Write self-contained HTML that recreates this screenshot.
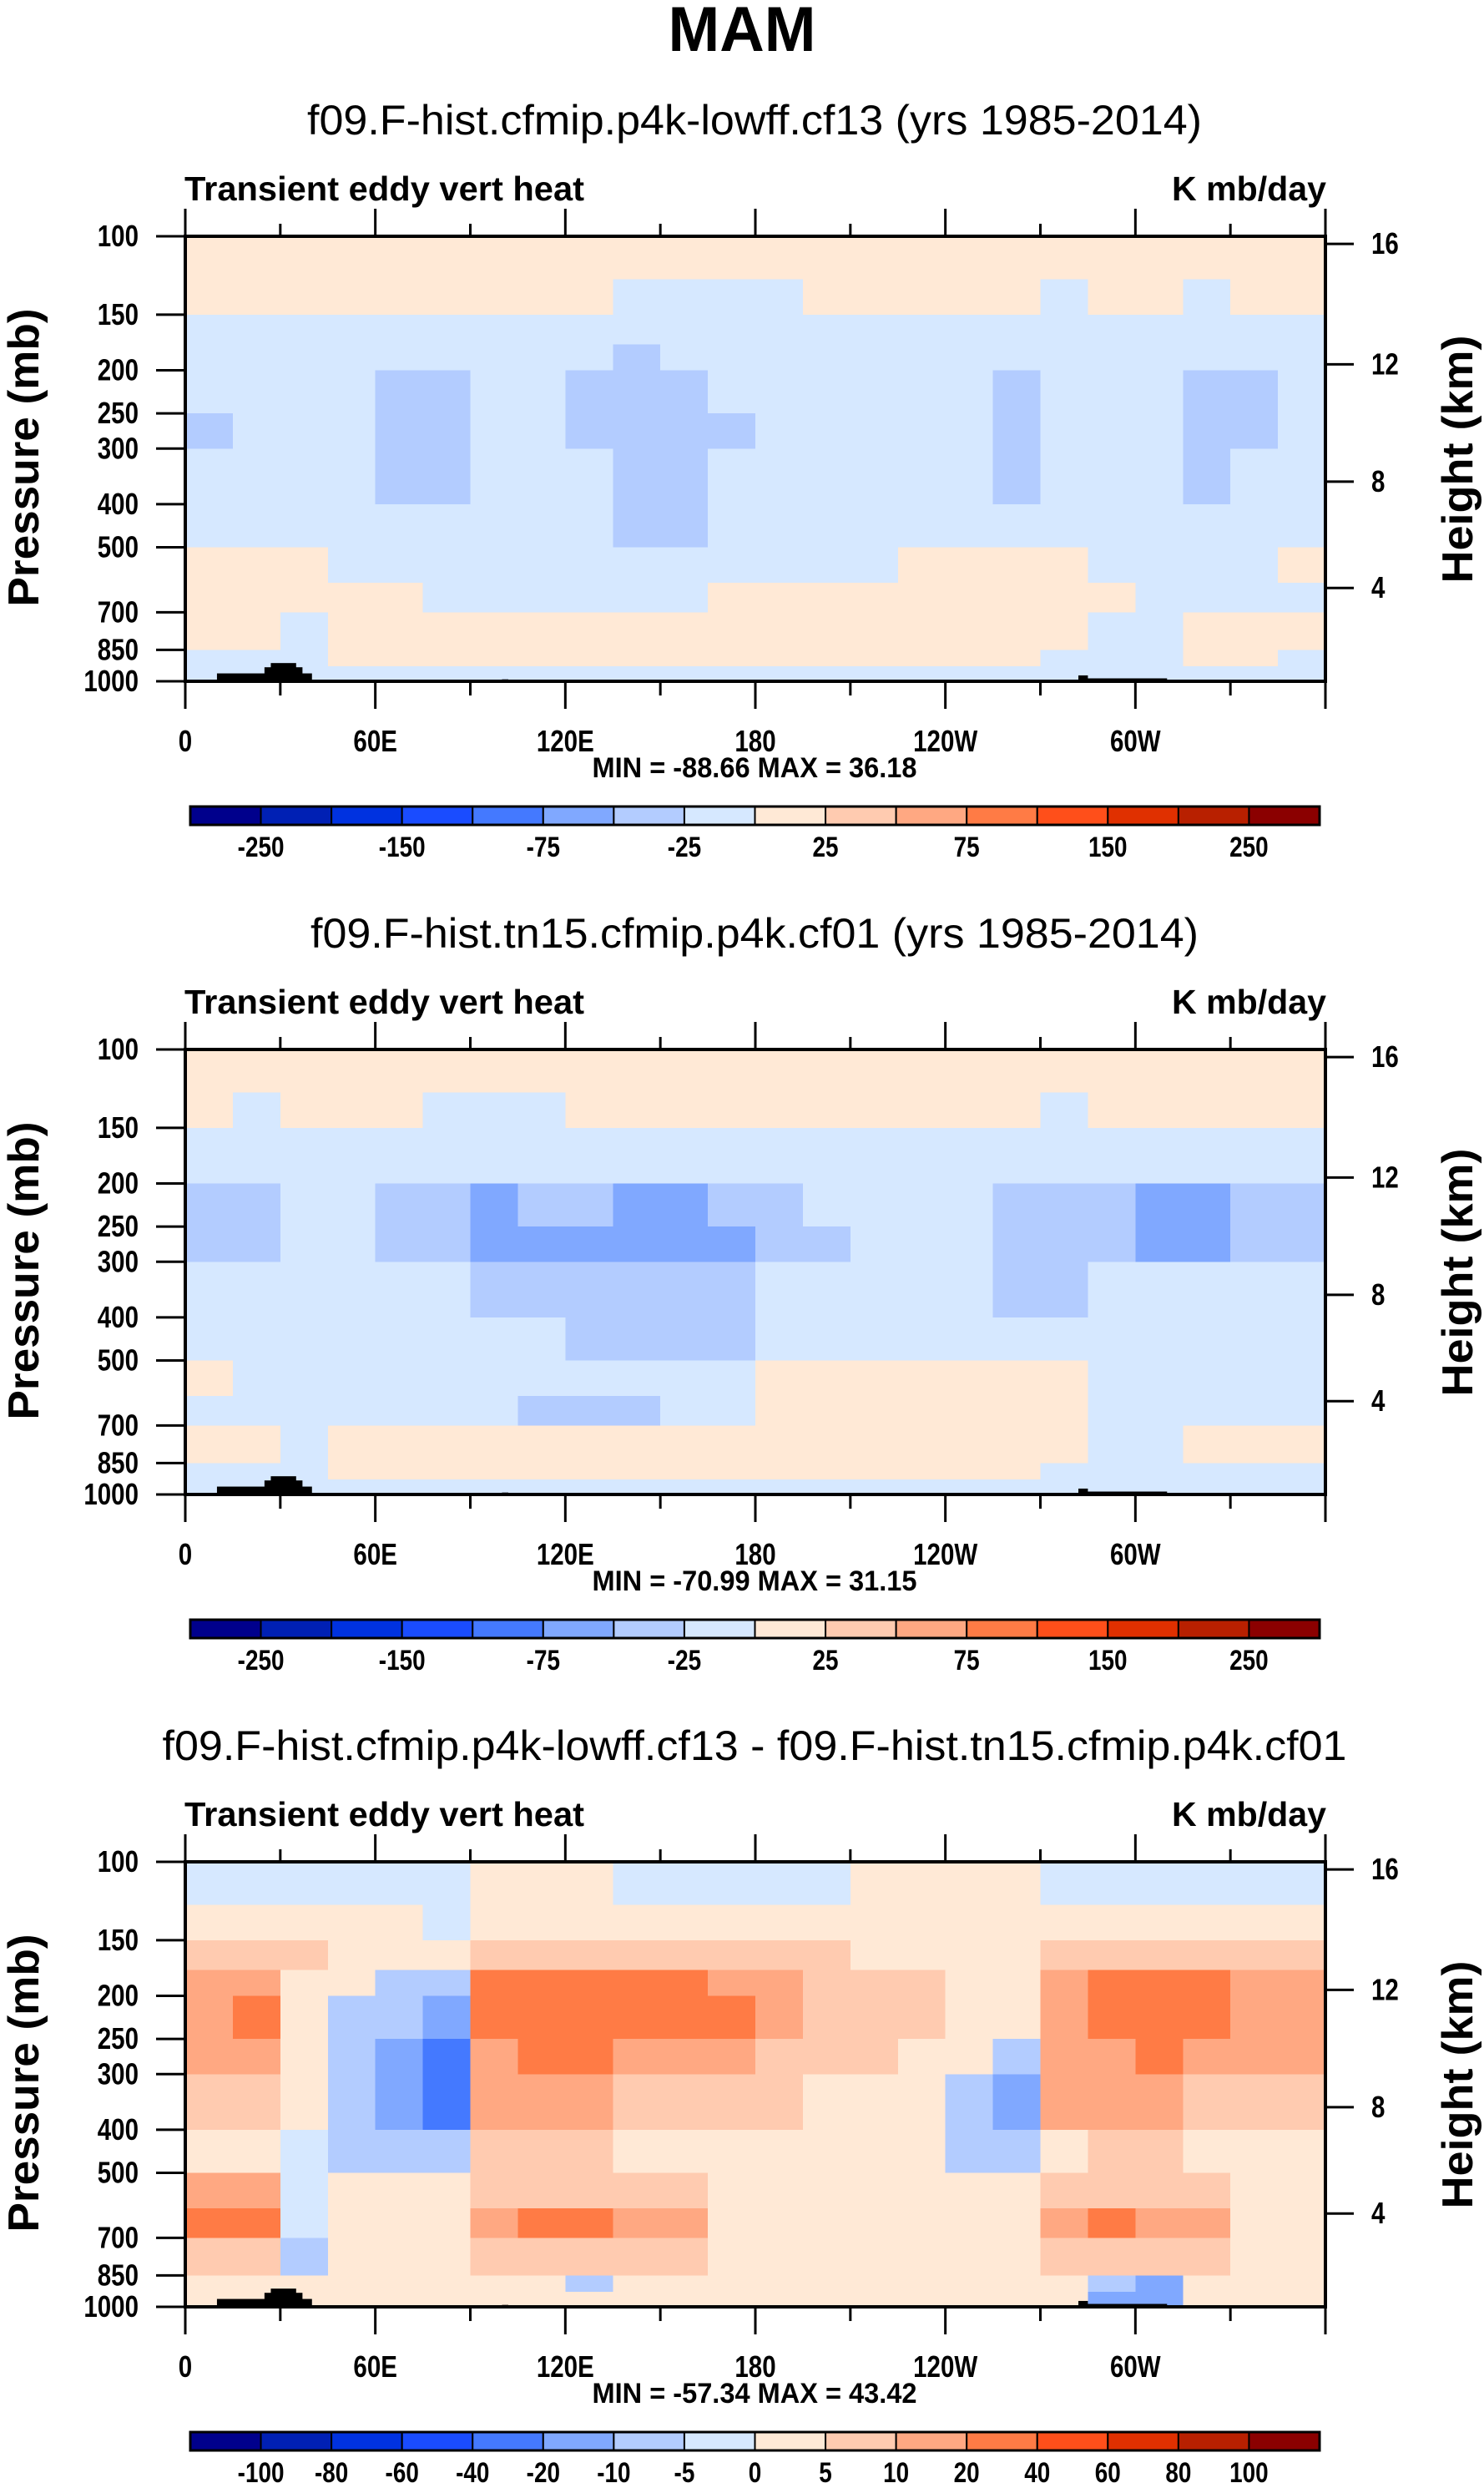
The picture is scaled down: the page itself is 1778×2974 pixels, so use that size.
<!DOCTYPE html>
<html><head><meta charset="utf-8"><style>
html,body{margin:0;padding:0;background:#fff;}
svg{display:block;font-family:"Liberation Sans",sans-serif;}
</style></head><body>
<svg id="fig" width="1778" height="2974" viewBox="0 0 1778 2974" xmlns="http://www.w3.org/2000/svg">
<text x="889" y="61" text-anchor="middle" font-size="76" font-weight="bold" textLength="177" lengthAdjust="spacingAndGlyphs">MAM</text>
</svg>
<script>
// ---------- data ----------
const pressureTicks = [100,150,200,250,300,400,500,700,850,1000];
const heightTicks = [16,12,8,4];
const heightTickP = [104,194,356,617]; // pressure at which height ticks sit
const lonTickLabels = ["0","60E","120E","180","120W","60W"];
const pEdges = [100,125,150,175,200,250,300,400,500,600,700,850,925,1000];
const lonStep = 15;
const colors = ["#00008c","#0020b4","#0032e0","#1a4cff","#4479ff","#80a8ff","#b3ccff","#d6e8ff","#ffe9d6","#ffcbb0","#ffa882","#ff7b45","#ff4f1a","#e03000","#b82000","#8b0000"];
const levelsA = [-250,-200,-150,-100,-75,-50,-25,0,25,50,75,100,150,200,250];
const labelsA = ["-250","","-150","","-75","","-25","","25","","75","","150","","250"];
const levelsB = [-100,-80,-60,-40,-20,-10,-5,0,5,10,20,40,60,80,100];
const labelsB = ["-100","-80","-60","-40","-20","-10","-5","0","5","10","20","40","60","80","100"];
const subtitles = ["f09.F-hist.cfmip.p4k-lowff.cf13 (yrs 1985-2014)","f09.F-hist.tn15.cfmip.p4k.cf01 (yrs 1985-2014)","f09.F-hist.cfmip.p4k-lowff.cf13 - f09.F-hist.tn15.cfmip.p4k.cf01"];
const subtitleLen = [1072,1064,1419];
const minmax = ["MIN = -88.66  MAX =  36.18","MIN = -70.99  MAX =  31.15","MIN = -57.34  MAX =  43.42"];
const topo = [[10,40,960],[25,37,930],[27,35,910],[100,102,990],[282,310,985],[282,285,970]];

const field1 = [
[5,5,5,5,5,5,5,5,5,5,5,5,5,5,5,5,5,5,5,5,5,5,5,5],
[5,5,5,5,5,5,5,5,5,-10,-10,-10,-10,5,5,5,5,5,-10,5,5,-10,5,5],
[-10,-10,-10,-10,-10,-10,-10,-10,-10,-10,-10,-10,-10,-10,-10,-10,-10,-10,-10,-10,-10,-10,-10,-10],
[-10,-10,-10,-10,-10,-10,-10,-10,-10,-40,-10,-10,-10,-10,-10,-10,-10,-10,-10,-10,-10,-10,-10,-10],
[-10,-10,-10,-10,-40,-40,-10,-10,-40,-40,-40,-10,-10,-10,-10,-10,-10,-40,-10,-10,-10,-40,-40,-10],
[-40,-10,-10,-10,-40,-40,-10,-10,-40,-40,-40,-40,-10,-10,-10,-10,-10,-40,-10,-10,-10,-40,-40,-10],
[-10,-10,-10,-10,-40,-40,-10,-10,-10,-40,-40,-10,-10,-10,-10,-10,-10,-40,-10,-10,-10,-40,-10,-10],
[-10,-10,-10,-10,-10,-10,-10,-10,-10,-40,-40,-10,-10,-10,-10,-10,-10,-10,-10,-10,-10,-10,-10,-10],
[5,5,5,-10,-10,-10,-10,-10,-10,-10,-10,-10,-10,-10,-10,5,5,5,5,-10,-10,-10,-10,5],
[5,5,5,5,5,-10,-10,-10,-10,-10,-10,5,5,5,5,5,5,5,5,5,-10,-10,-10,-10],
[5,5,-10,5,5,5,5,5,5,5,5,5,5,5,5,5,5,5,5,-10,-10,5,5,5],
[-10,-10,-10,5,5,5,5,5,5,5,5,5,5,5,5,5,5,5,-10,-10,-10,5,5,-10],
[-10,-10,-10,-10,-10,-10,-10,-10,-10,-10,-10,-10,-10,-10,-10,-10,-10,-10,-10,-10,-10,-10,-10,-10]];
const field2 = [
[5,5,5,5,5,5,5,5,5,5,5,5,5,5,5,5,5,5,5,5,5,5,5,5],
[5,-10,5,5,5,-10,-10,-10,5,5,5,5,5,5,5,5,5,5,-10,5,5,5,5,5],
[-10,-10,-10,-10,-10,-10,-10,-10,-10,-10,-10,-10,-10,-10,-10,-10,-10,-10,-10,-10,-10,-10,-10,-10],
[-10,-10,-10,-10,-10,-10,-10,-10,-10,-10,-10,-10,-10,-10,-10,-10,-10,-10,-10,-10,-10,-10,-10,-10],
[-40,-40,-10,-10,-40,-40,-60,-40,-40,-60,-60,-40,-40,-10,-10,-10,-10,-40,-40,-40,-60,-60,-40,-40],
[-40,-40,-10,-10,-40,-40,-60,-60,-60,-60,-60,-60,-40,-40,-10,-10,-10,-40,-40,-40,-60,-60,-40,-40],
[-10,-10,-10,-10,-10,-10,-40,-40,-40,-40,-40,-40,-10,-10,-10,-10,-10,-40,-40,-10,-10,-10,-10,-10],
[-10,-10,-10,-10,-10,-10,-10,-10,-40,-40,-40,-40,-10,-10,-10,-10,-10,-10,-10,-10,-10,-10,-10,-10],
[5,-10,-10,-10,-10,-10,-10,-10,-10,-10,-10,-10,5,5,5,5,5,5,5,-10,-10,-10,-10,-10],
[-10,-10,-10,-10,-10,-10,-10,-40,-40,-40,-10,-10,5,5,5,5,5,5,5,-10,-10,-10,-10,-10],
[5,5,-10,5,5,5,5,5,5,5,5,5,5,5,5,5,5,5,5,-10,-10,5,5,5],
[-10,-10,-10,5,5,5,5,5,5,5,5,5,5,5,5,5,5,5,-10,-10,-10,-10,-10,-10],
[-10,-10,-10,-10,-10,-10,-10,-10,-10,-10,-10,-10,-10,-10,-10,-10,-10,-10,-10,-10,-10,-10,-10,-10]];
const field3 = [
[-2,-2,-2,-2,-2,-2,2,2,2,-2,-2,-2,-2,-2,2,2,2,2,-2,-2,-2,-2,-2,-2],
[2,2,2,2,2,-2,2,2,2,2,2,2,2,2,2,2,2,2,2,2,2,2,2,2],
[7,7,7,2,2,2,7,7,7,7,7,7,7,7,2,2,2,2,7,7,7,7,7,7],
[15,15,2,2,-7,-7,25,25,25,25,25,15,15,7,7,7,2,2,15,25,25,25,15,15],
[15,25,2,-7,-7,-15,25,25,25,25,25,25,15,7,7,7,2,2,15,25,25,25,15,15],
[15,15,2,-7,-15,-30,15,25,25,15,15,15,7,7,7,2,2,-7,15,15,25,15,15,15],
[7,7,2,-7,-15,-30,15,15,15,7,7,7,7,2,2,2,-7,-15,15,15,15,7,7,7],
[2,2,-2,-7,-7,-7,7,7,7,2,2,2,2,2,2,2,-7,-7,2,7,7,2,2,2],
[15,15,-2,2,2,2,7,7,7,7,7,2,2,2,2,2,2,2,7,7,7,7,2,2],
[25,25,-2,2,2,2,15,25,25,15,15,2,2,2,2,2,2,2,15,25,15,15,2,2],
[7,7,-7,2,2,2,7,7,7,7,7,2,2,2,2,2,2,2,7,7,7,7,2,2],
[2,2,2,2,2,2,2,2,-7,2,2,2,2,2,2,2,2,2,2,-7,-15,2,2,2],
[2,2,2,2,2,2,2,2,2,2,2,2,2,2,2,2,2,2,2,-15,-15,2,2,2]];
const fields = [field1, field2, field3];
const levelSets = [levelsA, levelsA, levelsB];
const labelSets = [labelsA, labelsA, labelsB];

// ---------- layout ----------
const NS = "http://www.w3.org/2000/svg";
const svg = document.getElementById("fig");
const PX0 = 222, PX1 = 1588, PY0 = 283, PY1 = 816, DY = 973.5;
function xScale(lon){ return PX0 + (PX1-PX0)*lon/360; }
function yScale(p, off){ return off + PY0 + (PY1-PY0)*Math.log10(p/100); }
function mk(tag, attrs, parent){ const e=document.createElementNS(NS,tag); for(const k in attrs) e.setAttribute(k,attrs[k]); (parent||svg).appendChild(e); return e; }
function colorFor(v, lev){ let i=0; while(i<lev.length && v>=lev[i]) i++; return colors[i]; }

for (let k=0;k<3;k++){
  const off = Math.round(k*DY);
  const g = mk("g",{});
  
  
  const st = mk("text",{x:904,y:161+off,"text-anchor":"middle","font-size":50,textLength:subtitleLen[k],lengthAdjust:"spacingAndGlyphs"},g);
  st.textContent = subtitles[k];
  
  
  const lt = mk("text",{x:221,y:240+off,"font-size":41,"font-weight":"bold",textLength:479,lengthAdjust:"spacingAndGlyphs"},g);
  lt.textContent = "Transient eddy vert heat";
  
  
  const ut = mk("text",{x:1589,y:240+off,"font-size":41,"font-weight":"bold","text-anchor":"end",textLength:185,lengthAdjust:"spacingAndGlyphs"},g);
  ut.textContent = "K mb/day";
  
  
  const cg = mk("g",{"shape-rendering":"crispEdges"},g);
  
  
  const F = fields[k];
  for (let r=0;r<F.length;r++){
    for (let c=0;c<F[r].length;c++){
      const x0=xScale(c*lonStep), x1=xScale((c+1)*lonStep);
      const y0=yScale(pEdges[r],off), y1=yScale(pEdges[r+1],off);
      const cell = mk("rect",{x:x0,y:y0,width:x1-x0+0.5,height:y1-y0+0.5,fill:colorFor(F[r][c],levelSets[k])},cg);
      
      
    }
  }
  for (const t of topo){
    const tr = mk("rect",{x:xScale(t[0]),y:yScale(t[2],off),width:xScale(t[1])-xScale(t[0]),height:yScale(1000,off)-yScale(t[2],off),fill:"#000"},g);
    
    
  }
  const frame = mk("rect",{x:PX0,y:PY0+off,width:PX1-PX0,height:PY1-PY0,fill:"none",stroke:"#000","stroke-width":4},g);
  
  
  for (let lon=0; lon<=360; lon+=30){
    const major = lon%60===0;
    const x = xScale(lon);
    mk("line",{x1:x,x2:x,y1:PY0+off,y2:PY0+off-(major?33:15),stroke:"#000","stroke-width":3},g);
    mk("line",{x1:x,x2:x,y1:PY1+off,y2:PY1+off+(major?33:17),stroke:"#000","stroke-width":3},g);
    if (major && lon<360){
      const tl = mk("text",{x:x,y:900+off,"text-anchor":"middle","font-size":36,"font-weight":"bold","transform":`translate(${x},0) scale(0.82,1) translate(${-x},0)`},g);
      tl.textContent = lonTickLabels[lon/60];
      
      
    }
  }
  for (const p of pressureTicks){
    const y = yScale(p,off);
    mk("line",{x1:PX0,x2:187,y1:y,y2:y,stroke:"#000","stroke-width":3},g);
    const pl = mk("text",{x:166,y:y+12,"text-anchor":"end","font-size":36,"font-weight":"bold","transform":`translate(166,0) scale(0.82,1) translate(-166,0)`},g);
    pl.textContent = p;
    
    
  }
  for (let i=0;i<heightTicks.length;i++){
    const y = yScale(heightTickP[i],off);
    mk("line",{x1:PX1,x2:1622,y1:y,y2:y,stroke:"#000","stroke-width":3},g);
    const hl = mk("text",{x:1643,y:y+12,"font-size":36,"font-weight":"bold","transform":`translate(1643,0) scale(0.82,1) translate(-1643,0)`},g);
    hl.textContent = heightTicks[i];
    
    
  }
  const ya = mk("text",{x:0,y:0,"text-anchor":"middle","font-size":52,"font-weight":"bold",textLength:357,lengthAdjust:"spacingAndGlyphs",transform:`translate(46,${548+off}) rotate(-90)`},g);
  ya.textContent = "Pressure (mb)";
  
  
  const ha = mk("text",{x:0,y:0,"text-anchor":"middle","font-size":52,"font-weight":"bold",textLength:297,lengthAdjust:"spacingAndGlyphs",transform:`translate(1764,${550+off}) rotate(-90)`},g);
  ha.textContent = "Height (km)";
  
  
  const mm = mk("text",{x:904,y:931+off,"text-anchor":"middle","font-size":34,"font-weight":"bold","xml:space":"preserve",textLength:389,lengthAdjust:"spacingAndGlyphs"},g);
  mm.textContent = minmax[k];
  
  
  const cb = mk("g",{},g);
  
  
  const CB0=228, CB1=1581, bw=(CB1-CB0)/16, cy0=966+off, ch=22;
  for (let i=0;i<16;i++){
    const b = mk("rect",{x:CB0+i*bw,y:cy0,width:bw,height:ch,fill:colors[i],stroke:"#000","stroke-width":2},cb);
    
    
  }
  mk("rect",{x:CB0,y:cy0,width:CB1-CB0,height:ch,fill:"none",stroke:"#000","stroke-width":3},cb);
  const labs = labelSets[k];
  for (let i=0;i<15;i++){
    if (!labs[i]) continue;
    const lx = CB0+(i+1)*bw;
    const cl = mk("text",{x:lx,y:1026+off,"text-anchor":"middle","font-size":34,"font-weight":"bold","transform":`translate(${lx},0) scale(0.82,1) translate(${-lx},0)`},cb);
    cl.textContent = labs[i];
    
    
  }
}
</script>
</body></html>
